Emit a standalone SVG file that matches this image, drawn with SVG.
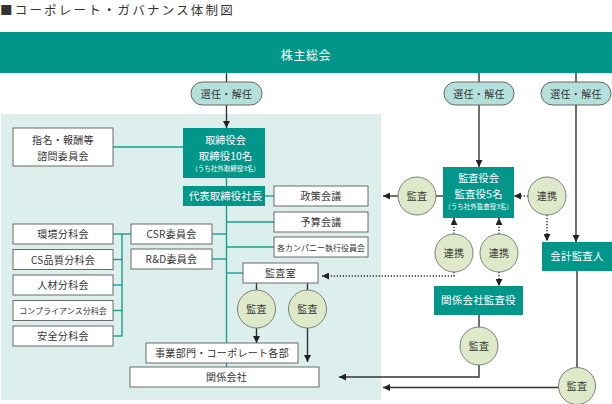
<svg xmlns="http://www.w3.org/2000/svg" width="612" height="404" viewBox="0 0 612 404">
<defs>
<style>
text{font-family:"Noto Sans CJK JP","Noto Sans",sans-serif;fill:#333;text-anchor:middle}
.w{fill:#fff}
.box{fill:#fff;stroke:#6b6b6b;stroke-width:1}
.tbox{fill:#00968a}
.pill{fill:#b4e0db;stroke:#666;stroke-width:1}
.circ{fill:#dde9c8;stroke:#7d7d7d;stroke-width:1}
.tl{stroke:#17a090;stroke-width:1.4;fill:none}
.bl{stroke:#333;stroke-width:1.4;fill:none}
.dl{stroke:#333;stroke-width:1.5;fill:none;stroke-dasharray:1.3 1.7}
.f10{font-size:10px;letter-spacing:0.3px}
.f8{font-size:8px}
</style>
<marker id="ah" viewBox="0 0 10 10" refX="10" refY="5" markerWidth="7" markerHeight="7" markerUnits="userSpaceOnUse" orient="auto">
<path d="M0,0 L10,5 L0,10 z" fill="#222"/>
</marker>
</defs>

<text x="0" y="14.6" style="font-size:12.5px;letter-spacing:2.2px;text-anchor:start">■コーポレート・ガバナンス体制図</text>

<rect x="1" y="114" width="380" height="286" fill="#dcefec"/>

<g id="shareholders">
<rect x="0" y="32" width="612" height="41" class="tbox"/>
<text x="306" y="59.5" class="w" style="font-size:12px;letter-spacing:0.6px">株主総会</text>
</g>

<g id="connectors">
<!-- black solid -->
<path class="bl" d="M226.5,73V82"/>
<path class="bl" d="M226.5,105V128" marker-end="url(#ah)"/>
<path class="bl" d="M479,73V82"/>
<path class="bl" d="M479,105V167" marker-end="url(#ah)"/>
<path class="bl" d="M576,73V82"/>
<path class="bl" d="M576,105V242" marker-end="url(#ah)"/>
<path class="bl" d="M443,196H436"/>
<path class="bl" d="M398,196H383" marker-end="url(#ah)"/>
<path class="bl" d="M479,315V327"/>
<path class="bl" d="M479,365V377H339" marker-end="url(#ah)"/>
<path class="bl" d="M577,271V367"/>
<path class="bl" d="M558,387.5H383" marker-end="url(#ah)"/>
<path class="bl" d="M256.5,283V290"/>
<path class="bl" d="M307.5,283V290"/>
<path class="bl" d="M256.5,328V343" marker-end="url(#ah)"/>
<path class="bl" d="M307.5,328V362" marker-end="url(#ah)"/>
<!-- dotted -->
<path class="dl" d="M528,196H514" marker-end="url(#ah)"/>
<path class="dl" d="M547,215V241" marker-end="url(#ah)"/>
<path class="dl" d="M454,234V218" marker-end="url(#ah)"/>
<path class="dl" d="M499,234V218" marker-end="url(#ah)"/>
<path class="dl" d="M454,272V276H322" marker-end="url(#ah)"/>
<path class="dl" d="M499,272V286" marker-end="url(#ah)"/>
<!-- teal -->
<path class="tl" d="M113,147H183"/>
<path class="tl" d="M226.5,178V186"/>
<path class="tl" d="M265,196H274"/>
<path class="tl" d="M226.5,206V367"/>
<path class="tl" d="M226.5,222H274"/>
<path class="tl" d="M226.5,247H274"/>
<path class="tl" d="M226.5,273H243"/>
<path class="tl" d="M212,234H226.5"/>
<path class="tl" d="M212,259H226.5"/>
<path class="tl" d="M122,234V336.5"/>
<path class="tl" d="M113,234H131"/>
<path class="tl" d="M113,259.5H122"/>
<path class="tl" d="M113,285H122"/>
<path class="tl" d="M113,310.5H122"/>
<path class="tl" d="M113,336H122"/>
</g>

<g id="pill1"><rect x="191" y="82" width="71" height="23" rx="11.5" class="pill"/><text x="226.5" y="97.5" class="f10">選任・解任</text></g>
<g id="pill2"><rect x="444" y="82" width="70" height="23" rx="11.5" class="pill"/><text x="479" y="97.5" class="f10">選任・解任</text></g>
<g id="pill3"><rect x="541" y="82" width="70" height="23" rx="11.5" class="pill"/><text x="576" y="97.5" class="f10">選任・解任</text></g>

<g id="board">
<rect x="183" y="128" width="82" height="50" class="tbox"/>
<text x="225.5" y="144" class="w" style="font-size:10.2px">取締役会</text>
<text x="225.5" y="159.6" class="w" style="font-size:10.5px">取締役10名</text>
<text x="225.5" y="170.6" class="w" style="font-size:6.5px">（うち社外取締役3名）</text>
</g>

<g id="nomination">
<rect x="13" y="128" width="100" height="38" class="box"/>
<text x="63" y="144.4" class="f10">指名・報酬等</text>
<text x="63" y="159.5" class="f10">諮問委員会</text>
</g>

<g id="president">
<rect x="183" y="186" width="82" height="20" class="tbox"/>
<text x="225.5" y="200" class="w" style="font-size:10.5px">代表取締役社長</text>
</g>

<g id="policy"><rect x="274" y="186" width="94" height="20" class="box"/><text x="321" y="200" class="f10">政策会議</text></g>
<g id="budget"><rect x="274" y="212" width="94" height="20" class="box"/><text x="321" y="226" class="f10">予算会議</text></g>
<g id="company-exec"><rect x="274" y="237" width="94" height="20" class="box"/><text x="321" y="250.5" class="f8">各カンパニー執行役員会</text></g>
<g id="audit-office"><rect x="243" y="263" width="75" height="20" class="box"/><text x="280.5" y="277" class="f10">監査室</text></g>

<g id="csr"><rect x="131" y="224" width="81" height="20" class="box"/><text x="171.5" y="238" class="f10">CSR委員会</text></g>
<g id="rd"><rect x="131" y="249" width="81" height="20" class="box"/><text x="171.5" y="263" class="f10">R&amp;D委員会</text></g>

<g id="env"><rect x="13" y="224" width="100" height="20" class="box"/><text x="63" y="238" class="f10">環境分科会</text></g>
<g id="cs"><rect x="13" y="249.5" width="100" height="20" class="box"/><text x="63" y="263.5" class="f10">CS品質分科会</text></g>
<g id="hr"><rect x="13" y="275" width="100" height="20" class="box"/><text x="63" y="289" class="f10">人材分科会</text></g>
<g id="compliance"><rect x="13" y="300.5" width="100" height="20" class="box"/><text x="63" y="314" class="f8">コンプライアンス分科会</text></g>
<g id="safety"><rect x="13" y="326" width="100" height="20" class="box"/><text x="63" y="340" class="f10">安全分科会</text></g>

<g id="audit-c1"><circle cx="256.5" cy="309" r="19" class="circ"/><text x="256.5" y="312.5" class="f10">監査</text></g>
<g id="audit-c2"><circle cx="307.5" cy="309" r="19" class="circ"/><text x="307.5" y="312.5" class="f10">監査</text></g>

<g id="divisions"><rect x="146" y="343" width="152" height="20" class="box"/><text x="222" y="357" class="f10">事業部門・コーポレート各部</text></g>
<g id="affiliates"><rect x="130" y="367" width="189" height="20" class="box"/><text x="226.5" y="381" class="f10">関係会社</text></g>

<g id="kansayaku">
<rect x="443" y="167" width="71" height="51" class="tbox"/>
<text x="478.5" y="182.2" class="w" style="font-size:10.2px">監査役会</text>
<text x="478.5" y="197.6" class="w" style="font-size:10.5px">監査役5名</text>
<text x="478.5" y="208.6" class="w" style="font-size:6.5px">（うち社外監査役3名）</text>
</g>

<g id="audit-c3"><circle cx="417" cy="196" r="19" class="circ"/><text x="417" y="199.5" class="f10">監査</text></g>
<g id="renkei-r"><circle cx="547" cy="196" r="19" class="circ"/><text x="547" y="199.5" class="f10">連携</text></g>
<g id="renkei-a"><circle cx="454" cy="253" r="19" class="circ"/><text x="454" y="256.5" class="f10">連携</text></g>
<g id="renkei-b"><circle cx="499" cy="253" r="19" class="circ"/><text x="499" y="256.5" class="f10">連携</text></g>

<g id="affiliate-auditors"><rect x="434" y="286" width="89" height="29" class="tbox"/><text x="478.5" y="304" class="w" style="font-size:10.5px;letter-spacing:0.2px">関係会社監査役</text></g>
<g id="audit-c4"><circle cx="479" cy="346" r="19" class="circ"/><text x="479" y="349.5" class="f10">監査</text></g>

<g id="accounting-auditor"><rect x="542" y="242" width="70" height="29" class="tbox"/><text x="577" y="260" class="w" style="font-size:10.5px;letter-spacing:0.2px">会計監査人</text></g>
<g id="audit-c5"><circle cx="577" cy="386" r="18.5" class="circ"/><text x="577" y="390" class="f10">監査</text></g>
</svg>
